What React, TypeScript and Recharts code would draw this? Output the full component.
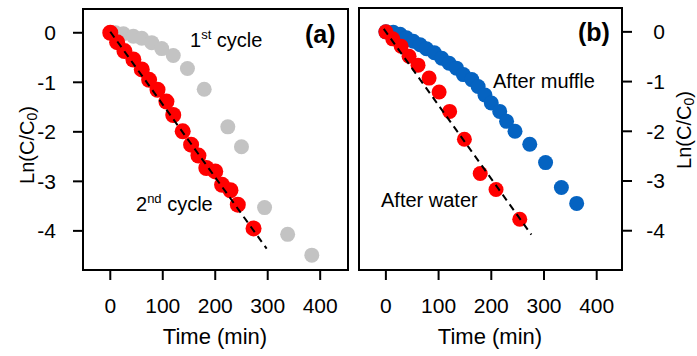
import { ScatterChart, Scatter, XAxis, YAxis, ReferenceArea } from 'recharts'

const FONT = '"Liberation Sans", Arial, Helvetica, sans-serif'

// panel (a): 1st / 2nd cycle
const firstCycleTime = [0, 10, 25, 44, 60, 79, 98, 120, 147, 179, 224, 250, 294, 338, 384]
const firstCycleLn = [0, 0.0, -0.02, -0.07, -0.11, -0.2, -0.32, -0.46, -0.72, -1.14, -1.9, -2.3, -3.53, -4.07, -4.49]
const secondCycleTime = [0, 13, 27, 44, 60, 74, 90, 107, 120, 138, 154, 168, 183, 200, 213, 229, 243, 273]
const secondCycleLn = [0, -0.19, -0.37, -0.54, -0.74, -0.95, -1.15, -1.39, -1.66, -1.99, -2.26, -2.48, -2.73, -2.8, -3.07, -3.18, -3.47, -3.95]
const fitATime = [0, 298]
const fitALn = [0.02, -4.36]

// panel (b): after muffle / after water
const muffleTime = [0, 14, 27, 39, 52, 65, 77, 92, 106, 120, 134, 147, 163, 175, 188, 200, 216, 229, 245, 273, 303, 333, 362]
const muffleLn = [0, -0.01, -0.05, -0.12, -0.19, -0.26, -0.34, -0.42, -0.53, -0.63, -0.73, -0.86, -0.96, -1.1, -1.27, -1.43, -1.6, -1.8, -2.0, -2.26, -2.63, -3.13, -3.45]
const waterTime = [0, 13, 29, 44, 61, 82, 101, 121, 149, 179, 209, 254]
const waterLn = [0, -0.14, -0.29, -0.49, -0.67, -0.93, -1.21, -1.6, -2.16, -2.85, -3.17, -3.77]
const fitBTime = [-4, 276]
const fitBLn = [0.06, -4.08]

const timeTicks = [0, 100, 200, 300, 400]
const lnTicks = [0, -1, -2, -3, -4]

const toPoints = (xs: number[], ys: number[]) => xs.map((x, i) => ({ x, y: ys[i] }))

const dot = (r: number, color: string) => (p: any) => <circle cx={p.cx} cy={p.cy} r={r} fill={color} />
const noDot = () => <g />

const tickStyle = { fill: '#000', fontSize: 21, fontFamily: FONT }
const lineStyle = { stroke: '#000', strokeWidth: 2 }
const fitLine = { stroke: '#000', strokeWidth: 2, strokeDasharray: '7 5' }

function RightTick(p: any) {
  return (
    <text x={p.x} y={p.y} dy="0.355em" textAnchor="end" fill="#000" fontSize={21} fontFamily={FONT}>
      {p.payload.value}
    </text>
  )
}

function LnTitle({ x, y }: { x: number; y: number }) {
  return (
    <text transform={`translate(${x},${y}) rotate(-90)`} textAnchor="middle" dominantBaseline="central" fontSize={20}>
      Ln(C/C<tspan fontSize={14} dy={5}>0</tspan>
      <tspan dy={-5}>)</tspan>
    </text>
  )
}

export default function App() {
  const xDomA: [number, number] = [-52, 453]
  const xDomB: [number, number] = [-51, 448]
  const yDom: [number, number] = [-4.79, 0.48]

  return (
    <div style={{ position: 'absolute', left: 0, top: 0, width: 697, height: 356, background: '#fff', fontFamily: FONT }}>
      <div style={{ position: 'absolute', left: 0, top: 0 }}>
        <ScatterChart width={350} height={356} margin={{ top: 9, right: 2, bottom: 0, left: 0 }}>
          <XAxis dataKey="x" type="number" domain={xDomA} allowDataOverflow ticks={timeTicks} height={86}
            tickSize={10} tickMargin={18} axisLine={lineStyle} tickLine={lineStyle} tick={tickStyle} />
          <YAxis dataKey="y" type="number" domain={yDom} allowDataOverflow ticks={lnTicks} width={83}
            tickSize={10} tickMargin={17} axisLine={lineStyle} tickLine={lineStyle} tick={tickStyle} />
          <ReferenceArea x1={xDomA[0]} x2={xDomA[1]} y1={yDom[0]} y2={yDom[1]} fill="none" stroke="#000" strokeWidth={2} ifOverflow="visible" />
          <Scatter data={toPoints(firstCycleTime, firstCycleLn)} shape={dot(7.5, '#c3c3c3')} isAnimationActive={false} />
          <Scatter data={toPoints(secondCycleTime, secondCycleLn)} shape={dot(8, '#ff0000')} isAnimationActive={false} />
          <Scatter data={toPoints(fitATime, fitALn)} shape={noDot} line={fitLine} isAnimationActive={false} />
        </ScatterChart>
      </div>
      <div style={{ position: 'absolute', left: 350, top: 0 }}>
        <ScatterChart width={347} height={356} margin={{ top: 8, right: 0, bottom: 0, left: 9 }}>
          <XAxis dataKey="x" type="number" domain={xDomB} allowDataOverflow ticks={timeTicks} height={86}
            tickSize={10} tickMargin={18} axisLine={lineStyle} tickLine={lineStyle} tick={tickStyle} />
          <YAxis dataKey="y" type="number" orientation="right" domain={yDom} allowDataOverflow ticks={lnTicks} width={75}
            tickSize={10} tickMargin={33} axisLine={lineStyle} tickLine={lineStyle} tick={<RightTick />} />
          <ReferenceArea x1={xDomB[0]} x2={xDomB[1]} y1={yDom[0]} y2={yDom[1]} fill="none" stroke="#000" strokeWidth={2} ifOverflow="visible" />
          <Scatter data={toPoints(muffleTime, muffleLn)} shape={dot(7.5, '#0563c1')} isAnimationActive={false} />
          <Scatter data={toPoints(waterTime, waterLn)} shape={dot(7.5, '#ff0000')} isAnimationActive={false} />
          <Scatter data={toPoints(fitBTime, fitBLn)} shape={noDot} line={fitLine} isAnimationActive={false} />
        </ScatterChart>
      </div>
      <svg width={697} height={356} style={{ position: 'absolute', left: 0, top: 0, pointerEvents: 'none' }}
        fontFamily={FONT} fill="#000">
        <LnTitle x={27} y={145} />
        <LnTitle x={684} y={130} />
        <text x={215} y={344} textAnchor="middle" fontSize={22}>Time (min)</text>
        <text x={490} y={344} textAnchor="middle" fontSize={22}>Time (min)</text>
        <text x={305} y={43} fontSize={25} fontWeight="bold">(a)</text>
        <text x={578} y={41} fontSize={25} fontWeight="bold">(b)</text>
        <text x={190} y={47} fontSize={20}>1<tspan fontSize={13} dy={-8}>st</tspan><tspan dy={8}> cycle</tspan></text>
        <text x={136} y={211} fontSize={20}>2<tspan fontSize={13} dy={-8}>nd</tspan><tspan dy={8}> cycle</tspan></text>
        <text x={493} y={88} fontSize={20}>After muffle</text>
        <text x={381} y={207} fontSize={20}>After water</text>
      </svg>
    </div>
  )
}
